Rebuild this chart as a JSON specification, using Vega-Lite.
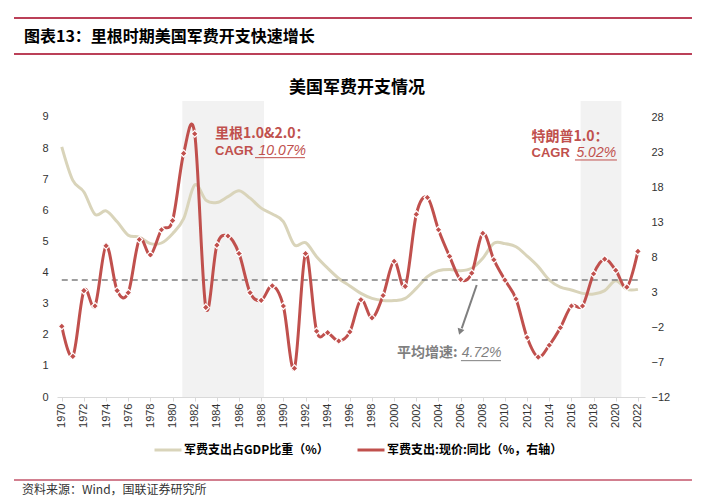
{
  "$schema": "https://vega.github.io/schema/vega-lite/v6.json",
  "width": 588,
  "height": 296,
  "autosize": {"type": "none"},
  "padding": {"left": 57, "top": 101, "right": 59, "bottom": 106},
  "background": "white",
  "config": {"view": {"stroke": null}, "font": "Liberation Sans"},
  "datasets": {
    "shade": [{"start": 1980.88, "end": 1988.25}, {"start": 2016.83, "end": 2020.51}],
    "gdp": [
      {"year": 1970, "v": 8.04}, {"year": 1971, "v": 6.96}, {"year": 1972, "v": 6.59}, {"year": 1973, "v": 5.87},
      {"year": 1974, "v": 5.98}, {"year": 1975, "v": 5.63}, {"year": 1976, "v": 5.2}, {"year": 1977, "v": 5.14},
      {"year": 1978, "v": 4.93}, {"year": 1979, "v": 4.95}, {"year": 1980, "v": 5.25}, {"year": 1981, "v": 5.73},
      {"year": 1982, "v": 6.82}, {"year": 1983, "v": 6.33}, {"year": 1984, "v": 6.25}, {"year": 1985, "v": 6.44},
      {"year": 1986, "v": 6.63}, {"year": 1987, "v": 6.39}, {"year": 1988, "v": 6.07}, {"year": 1989, "v": 5.88},
      {"year": 1990, "v": 5.64}, {"year": 1991, "v": 4.89}, {"year": 1992, "v": 4.96}, {"year": 1993, "v": 4.51},
      {"year": 1994, "v": 4.14}, {"year": 1995, "v": 3.81}, {"year": 1996, "v": 3.57}, {"year": 1997, "v": 3.33},
      {"year": 1998, "v": 3.17}, {"year": 1999, "v": 3.1}, {"year": 2000, "v": 3.1}, {"year": 2001, "v": 3.17},
      {"year": 2002, "v": 3.49}, {"year": 2003, "v": 3.87}, {"year": 2004, "v": 4.06}, {"year": 2005, "v": 4.1},
      {"year": 2006, "v": 4.06}, {"year": 2007, "v": 4.14}, {"year": 2008, "v": 4.46}, {"year": 2009, "v": 4.94},
      {"year": 2010, "v": 4.93}, {"year": 2011, "v": 4.83}, {"year": 2012, "v": 4.53}, {"year": 2013, "v": 4.19},
      {"year": 2014, "v": 3.76}, {"year": 2015, "v": 3.53}, {"year": 2016, "v": 3.44}, {"year": 2017, "v": 3.33},
      {"year": 2018, "v": 3.31}, {"year": 2019, "v": 3.42}, {"year": 2020, "v": 3.74}, {"year": 2021, "v": 3.46},
      {"year": 2022, "v": 3.46}
    ],
    "yoy": [
      {"year": 1970, "v": -1.9}, {"year": 1971, "v": -6.2}, {"year": 1972, "v": 3.2}, {"year": 1973, "v": 1.0},
      {"year": 1974, "v": 9.6}, {"year": 1975, "v": 3.2}, {"year": 1976, "v": 2.9}, {"year": 1977, "v": 10.5},
      {"year": 1978, "v": 8.3}, {"year": 1979, "v": 11.9}, {"year": 1980, "v": 13.2}, {"year": 1981, "v": 22.8},
      {"year": 1982, "v": 25.6}, {"year": 1983, "v": 0.8}, {"year": 1984, "v": 9.7}, {"year": 1985, "v": 11.0},
      {"year": 1986, "v": 8.5}, {"year": 1987, "v": 2.9}, {"year": 1988, "v": 1.8}, {"year": 1989, "v": 3.9},
      {"year": 1990, "v": 1.0}, {"year": 1991, "v": -7.9}, {"year": 1992, "v": 8.5}, {"year": 1993, "v": -2.6},
      {"year": 1994, "v": -2.8}, {"year": 1995, "v": -4.0}, {"year": 1996, "v": -2.7}, {"year": 1997, "v": 1.9},
      {"year": 1998, "v": -0.7}, {"year": 1999, "v": 2.5}, {"year": 2000, "v": 7.4}, {"year": 2001, "v": 3.8},
      {"year": 2002, "v": 14.1}, {"year": 2003, "v": 16.5}, {"year": 2004, "v": 11.9}, {"year": 2005, "v": 8.1},
      {"year": 2006, "v": 4.8}, {"year": 2007, "v": 5.7}, {"year": 2008, "v": 11.4}, {"year": 2009, "v": 7.6},
      {"year": 2010, "v": 4.7}, {"year": 2011, "v": 2.0}, {"year": 2012, "v": -3.5}, {"year": 2013, "v": -6.3},
      {"year": 2014, "v": -4.6}, {"year": 2015, "v": -2.1}, {"year": 2016, "v": 1.0}, {"year": 2017, "v": 1.0},
      {"year": 2018, "v": 5.6}, {"year": 2019, "v": 7.7}, {"year": 2020, "v": 6.1}, {"year": 2021, "v": 3.7},
      {"year": 2022, "v": 8.8}
    ]
  },
  "layer": [
    {
      "layer": [
        {
          "data": {"name": "shade"},
          "mark": {"type": "rect", "color": "#F2F2F2"},
          "encoding": {
            "x": {"field": "start", "type": "quantitative", "scale": {"domain": [1969.57, 2022.64], "nice": false, "zero": false}},
            "x2": {"field": "end"}
          }
        },
        {
          "data": {"name": "gdp"},
          "mark": {"type": "line", "interpolate": "cardinal", "strokeWidth": 3},
          "encoding": {
            "x": {"field": "year", "type": "quantitative", "scale": {"domain": [1969.57, 2022.64], "nice": false, "zero": false},
              "axis": {"values": [1970,1972,1974,1976,1978,1980,1982,1984,1986,1988,1990,1992,1994,1996,1998,2000,2002,2004,2006,2008,2010,2012,2014,2016,2018,2020,2022],
                "tickCount": 200, "format": "d", "labelAngle": -90, "labelFont": "Liberation Sans", "labelFontSize": 11, "labelColor": "#333333",
                "domainColor": "#D9D9D9", "tickColor": "#D9D9D9", "tickSize": 4, "grid": false, "title": null, "labelPadding": 2,
                "labelFlush": false, "labelOverlap": false}},
            "y": {"field": "v", "type": "quantitative", "scale": {"domain": [0, 9.514], "nice": false, "zero": false},
              "axis": {"values": [0,1,2,3,4,5,6,7,8,9], "tickCount": 100, "format": "d", "orient": "left", "grid": false, "domain": false, "ticks": false, "labelPadding": 9,
                "title": null, "labelFont": "Liberation Sans", "labelFontSize": 11, "labelColor": "#333333", "labelOverlap": false}},
            "color": {"datum": "军费支出占GDP比重（%）", "type": "nominal",
              "scale": {"domain": ["军费支出占GDP比重（%）", "军费支出:现价:同比（%，右轴）"], "range": ["#D9D4BA", "#C0504D"]},
              "legend": {"orient": "none", "legendX": 96, "legendY": 334, "direction": "horizontal", "title": null, "symbolType": "stroke",
                "symbolSize": 729, "symbolStrokeWidth": 3, "labelFont": "Noto Sans CJK SC", "labelFontWeight": "bold", "labelFontSize": 12,
                "labelColor": "#000000", "labelOffset": 1, "columnPadding": 22, "padding": 0, "labelLimit": 400}}
          }
        },
        {
          "data": {"values": [{}]},
          "mark": {"type": "rule", "color": "#A50021", "strokeWidth": 1.5},
          "encoding": {"x": {"datum": 1965.69}, "x2": {"datum": 2026.88}, "y": {"datum": 12.18}}
        },
        {
          "data": {"values": [{}]},
          "mark": {"type": "rule", "color": "#A50021", "strokeWidth": 1.5},
          "encoding": {"x": {"datum": 1965.69}, "x2": {"datum": 2026.88}, "y": {"datum": 11.025}}
        },
        {
          "data": {"values": [{}]},
          "mark": {"type": "rule", "color": "#A50021", "strokeWidth": 1},
          "encoding": {"x": {"datum": 1965.69}, "x2": {"datum": 2026.88}, "y": {"datum": -2.668}}
        },
        {
          "data": {"values": [{}]},
          "mark": {"type": "text", "align": "left", "baseline": "middle", "font": "Noto Sans CJK SC", "fontWeight": "bold", "fontSize": 16, "color": "#000000", "text": "图表13：里根时期美国军费开支快速增长"},
          "encoding": {"x": {"datum": 1966.59}, "y": {"datum": 11.57}}
        },
        {
          "data": {"values": [{}]},
          "mark": {"type": "text", "align": "center", "baseline": "middle", "font": "Noto Sans CJK SC", "fontWeight": "bold", "fontSize": 17, "color": "#000000", "text": "美国军费开支情况"},
          "encoding": {"x": {"datum": 1996.65}, "y": {"datum": 9.932}}
        },
        {
          "data": {"values": [{}]},
          "mark": {"type": "text", "align": "left", "baseline": "middle", "font": "Noto Sans CJK SC", "fontSize": 12, "color": "#333333", "text": "资料来源：Wind，国联证券研究所"},
          "encoding": {"x": {"datum": 1966.41}, "y": {"datum": -2.989}}
        }
      ]
    },
    {
      "layer": [
        {
          "data": {"values": [{}]},
          "mark": {"type": "rule", "color": "#7F7F7F", "strokeWidth": 1.5, "strokeDash": [6, 4]},
          "encoding": {"x": {"datum": 1970}, "x2": {"datum": 2022},
            "y": {"datum": 4.72, "scale": {"domain": [-12, 30.286], "nice": false, "zero": false}}}
        },
        {
          "data": {"name": "yoy"},
          "mark": {"type": "line", "interpolate": "cardinal", "strokeWidth": 3},
          "encoding": {
            "x": {"field": "year", "type": "quantitative"},
            "y": {"field": "v", "type": "quantitative", "scale": {"domain": [-12, 30.286], "nice": false, "zero": false},
              "axis": {"values": [-12,-7,-2,3,8,13,18,23,28], "tickCount": 100, "format": "d", "orient": "right", "grid": false, "domain": false, "ticks": false, "labelPadding": 6,
                "title": null, "labelFont": "Liberation Sans", "labelFontSize": 11, "labelColor": "#333333", "labelOverlap": false}},
            "color": {"datum": "军费支出:现价:同比（%，右轴）", "type": "nominal",
              "scale": {"domain": ["军费支出占GDP比重（%）", "军费支出:现价:同比（%，右轴）"], "range": ["#D9D4BA", "#C0504D"]},
              "legend": {"orient": "none", "legendX": 96, "legendY": 334, "direction": "horizontal", "title": null, "symbolType": "stroke",
                "symbolSize": 729, "symbolStrokeWidth": 3, "labelFont": "Noto Sans CJK SC", "labelFontWeight": "bold", "labelFontSize": 12,
                "labelColor": "#000000", "labelOffset": 1, "columnPadding": 22, "padding": 0, "labelLimit": 400}}
          }
        },
        {
          "data": {"name": "yoy"},
          "mark": {"type": "point", "shape": "diamond", "filled": true, "size": 48, "fill": "#C0504D", "stroke": "#FFFFFF", "strokeWidth": 1.2, "opacity": 1},
          "encoding": {
            "x": {"field": "year", "type": "quantitative"},
            "y": {"field": "v", "type": "quantitative"}
          }
        },
        {
          "data": {"values": [{}]},
          "mark": {"type": "text", "align": "left", "baseline": "middle", "font": "Noto Sans CJK SC", "fontWeight": "bold", "fontSize": 14, "color": "#C0504D", "text": "里根1.0&2.0："},
          "encoding": {"x": {"datum": 1983.83}, "y": {"datum": 25.57}}
        },
        {
          "data": {"values": [{}]},
          "mark": {"type": "text", "align": "left", "baseline": "middle", "font": "Liberation Sans", "fontWeight": "bold", "fontSize": 13, "color": "#C0504D", "text": "CAGR"},
          "encoding": {"x": {"datum": 1983.83}, "y": {"datum": 23.19}}
        },
        {
          "data": {"values": [{}]},
          "mark": {"type": "text", "align": "left", "baseline": "middle", "font": "Liberation Sans", "fontStyle": "italic", "fontSize": 14, "color": "#C0504D", "text": "10.07%"},
          "encoding": {"x": {"datum": 1987.75}, "y": {"datum": 23.19}}
        },
        {
          "data": {"values": [{}]},
          "mark": {"type": "rule", "color": "#C0504D", "strokeWidth": 1},
          "encoding": {"x": {"datum": 1987.44}, "x2": {"datum": 1991.95}, "y": {"datum": 22.19}}
        },
        {
          "data": {"values": [{}]},
          "mark": {"type": "text", "align": "left", "baseline": "middle", "font": "Noto Sans CJK SC", "fontWeight": "bold", "fontSize": 14, "color": "#C0504D", "text": "特朗普1.0："},
          "encoding": {"x": {"datum": 2012.4}, "y": {"datum": 25.19}}
        },
        {
          "data": {"values": [{}]},
          "mark": {"type": "text", "align": "left", "baseline": "middle", "font": "Liberation Sans", "fontWeight": "bold", "fontSize": 13, "color": "#C0504D", "text": "CAGR"},
          "encoding": {"x": {"datum": 2012.4}, "y": {"datum": 22.81}}
        },
        {
          "data": {"values": [{}]},
          "mark": {"type": "text", "align": "left", "baseline": "middle", "font": "Liberation Sans", "fontStyle": "italic", "fontSize": 14, "color": "#C0504D", "text": "5.02%"},
          "encoding": {"x": {"datum": 2016.45}, "y": {"datum": 22.81}}
        },
        {
          "data": {"values": [{}]},
          "mark": {"type": "rule", "color": "#C0504D", "strokeWidth": 1},
          "encoding": {"x": {"datum": 2016.32}, "x2": {"datum": 2020.11}, "y": {"datum": 21.86}}
        },
        {
          "data": {"values": [{}]},
          "mark": {"type": "text", "align": "left", "baseline": "middle", "font": "Noto Sans CJK SC", "fontWeight": "bold", "fontSize": 14, "color": "#7F7F7F", "text": "平均增速:"},
          "encoding": {"x": {"datum": 2000.26}, "y": {"datum": -5.67}}
        },
        {
          "data": {"values": [{}]},
          "mark": {"type": "text", "align": "left", "baseline": "middle", "font": "Liberation Sans", "fontStyle": "italic", "fontSize": 14, "color": "#7F7F7F", "text": "4.72%"},
          "encoding": {"x": {"datum": 2006.1}, "y": {"datum": -5.67}}
        },
        {
          "data": {"values": [{}]},
          "mark": {"type": "rule", "color": "#7F7F7F", "strokeWidth": 1},
          "encoding": {"x": {"datum": 2006.03}, "x2": {"datum": 2009.64}, "y": {"datum": -6.81}}
        },
        {
          "data": {"values": [{}]},
          "mark": {"type": "rule", "color": "#7F7F7F", "strokeWidth": 2},
          "encoding": {"x": {"datum": 2007.45}, "y": {"datum": 4.0}, "x2": {"datum": 2006.1}, "y2": {"datum": -2.2}}
        },
        {
          "data": {"values": [{}]},
          "mark": {"type": "point", "shape": "triangle", "filled": true, "size": 50, "color": "#7F7F7F", "angle": 198, "opacity": 1},
          "encoding": {"x": {"datum": 2005.98}, "y": {"datum": -2.55}}
        }
      ]
    }
  ],
  "resolve": {"scale": {"y": "independent"}}
}
